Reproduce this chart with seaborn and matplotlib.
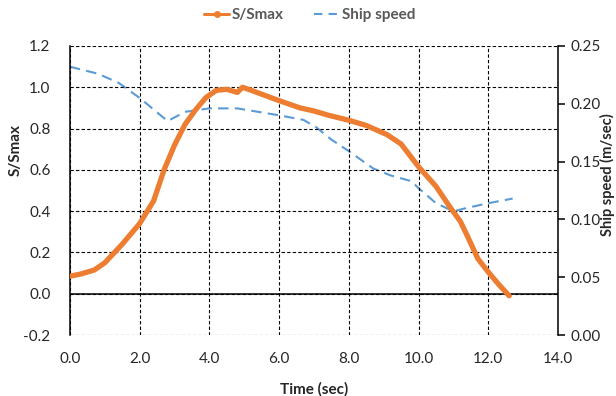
import matplotlib
matplotlib.use("Agg")
import matplotlib.pyplot as plt
from matplotlib.ticker import FormatStrFormatter, MultipleLocator
from matplotlib.lines import Line2D
import seaborn as sns
import pandas as pd

# S/Smax curve (left axis)
time_s = [0, 0.3, 0.7, 1.0, 1.5, 2.0, 2.4, 2.7, 3.0, 3.3, 3.6, 3.9, 4.2, 4.5,
          4.8, 4.95, 5.2, 5.6, 6.0, 6.6, 7.0, 7.4, 8.0, 8.5, 9.1, 9.5, 10.0,
          10.5, 10.9, 11.2, 11.4, 11.7, 12.0, 12.3, 12.6]
s_smax = [0.085, 0.095, 0.115, 0.15, 0.24, 0.34, 0.45, 0.6, 0.72, 0.82, 0.89,
          0.95, 0.985, 0.99, 0.975, 1.0, 0.985, 0.96, 0.935, 0.9, 0.885, 0.865,
          0.84, 0.815, 0.77, 0.725, 0.615, 0.52, 0.42, 0.35, 0.28, 0.17, 0.105,
          0.045, -0.01]

# ship speed (right axis)
time_v = [0, 0.8, 1.4, 2.0, 2.8, 3.3, 4.0, 4.8, 5.4, 6.0, 6.7, 7.05, 7.5, 8.0,
          8.7, 9.2, 9.8, 10.0, 10.5, 11.0, 11.4, 12.0, 12.7]
ship_speed = [0.232, 0.226, 0.218, 0.205, 0.185, 0.193, 0.196, 0.196, 0.193,
              0.19, 0.186, 0.18, 0.169, 0.159, 0.144, 0.138, 0.133, 0.127,
              0.114, 0.107, 0.11, 0.114, 0.118]

orange = "#ED7D31"
blue = "#5B9BD5"

sns.set_style("white")
plt.rcParams["font.family"] = ["Lato", "DejaVu Sans"]

df_s = pd.DataFrame({"t": time_s, "s": s_smax})
df_v = pd.DataFrame({"t": time_v, "v": ship_speed})

fig = plt.figure(figsize=(6.16, 3.96), dpi=100)
ax = fig.add_axes([0.1136, 0.154, 0.7922, 0.73])
ax2 = ax.twinx()

sns.lineplot(data=df_v, x="t", y="v", ax=ax2, color=blue, lw=1.5,
             linestyle=(0, (5, 3)), zorder=3)
sns.lineplot(data=df_s, x="t", y="s", ax=ax, color=orange, lw=3.8,
             solid_capstyle="round", zorder=4)

ax.set_zorder(ax2.get_zorder() + 1)
ax.patch.set_visible(False)

ax.set_xlim(0, 14)
ax.set_ylim(-0.2, 1.2)
ax2.set_ylim(0, 0.25)
ax.xaxis.set_major_locator(MultipleLocator(2))
ax.yaxis.set_major_locator(MultipleLocator(0.2))
ax2.yaxis.set_major_locator(MultipleLocator(0.05))
ax.xaxis.set_major_formatter(FormatStrFormatter("%.1f"))
ax.yaxis.set_major_formatter(FormatStrFormatter("%.1f"))
ax2.yaxis.set_major_formatter(FormatStrFormatter("%.2f"))

ax.grid(True, color="black", lw=0.8, linestyle=(0, (3, 2)))
ax2.grid(False)
ax.axhline(0, color="black", lw=1.1, zorder=2)

for s in ["top", "bottom", "right"]:
    ax.spines[s].set_visible(False)
for s in ["top", "bottom", "left"]:
    ax2.spines[s].set_visible(False)
ax.spines["left"].set_color("black")
ax.spines["left"].set_linewidth(1.1)
ax2.spines["right"].set_color("black")
ax2.spines["right"].set_linewidth(1.1)

ax.tick_params(axis="x", length=0, labelsize=11, colors="#262626", pad=12)
ax.tick_params(axis="y", length=0, labelsize=11, colors="#262626", pad=14)
ax2.tick_params(axis="y", length=5, width=1.1, color="black", labelsize=11,
                labelcolor="#262626", pad=4)

ax.set_xlabel("Time (sec)", fontsize=11, fontweight="bold", labelpad=12)
ax.set_ylabel("S/Smax", fontsize=11, fontweight="bold")
ax.yaxis.set_label_coords(-0.096, 0.64)
ax2.set_ylabel("Ship speed (m/sec)", fontsize=10.5, fontweight="bold")
ax2.yaxis.set_label_coords(1.086, 0.554)

handles = [
    Line2D([], [], color=orange, lw=2.2, marker="o", markersize=4),
    Line2D([], [], color=blue, lw=1.5, linestyle=(0, (4, 3))),
]
fig.legend(handles, ["S/Smax", "Ship speed"], loc="center",
           bbox_to_anchor=(0.503, 0.962), ncol=2, frameon=False,
           handlelength=1.6, columnspacing=2.0,
           handletextpad=0.2, labelcolor="#595959",
           prop={"weight": "bold", "size": 11})

fig.savefig("out.png", dpi=100)
